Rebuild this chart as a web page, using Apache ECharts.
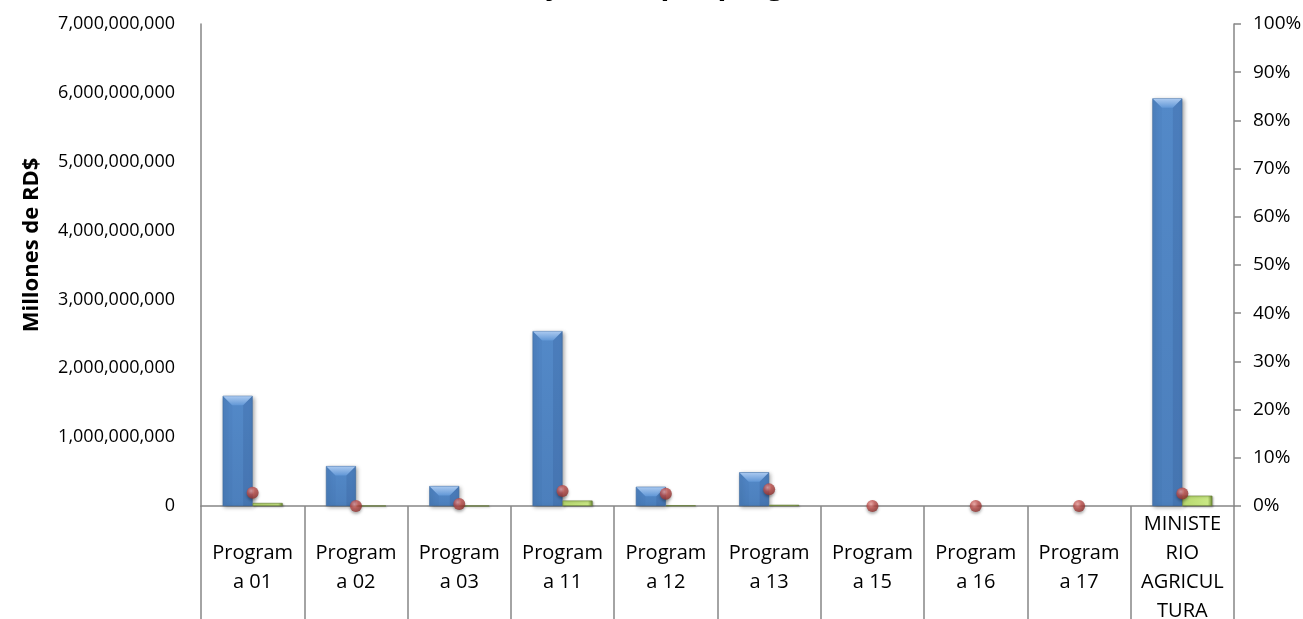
<!DOCTYPE html>
<html>
<head>
<meta charset="utf-8">
<script src="https://cdn.jsdelivr.net/npm/echarts@6/dist/echarts.min.js"></script>
<style>
html,body{margin:0;padding:0;background:#fff;overflow:hidden;}
#chart{width:1303px;height:619px;}
</style>
</head>
<body>
<div id="chart"></div>
<script>
const categories = ['Programa 01','Programa 02','Programa 03','Programa 11','Programa 12','Programa 13','Programa 15','Programa 16','Programa 17','MINISTERIO AGRICULTURA'];
const presupuesto = [1600000000, 580000000, 290000000, 2540000000, 280000000, 490000000, 0, 0, 0, 5920000000];
const ejecutado = [44000000, 1000000, 1000000, 79000000, 7000000, 17000000, 0, 0, 0, 150000000];
const porcentaje = [0.0276, 0.0, 0.004, 0.031, 0.0255, 0.0345, 0, 0, 0, 0.026];
const leftTicks = [0, 1000000000, 7000000000];
const rightTicks = [0, 0.1, 1];
const titleText = 'Monto y Gasto por programa';
const yName = 'Millones de RD$';

function wrapLabel(s) {
  const words = s.split(' ');
  const lines = [];
  let cur = '';
  words.forEach(function (w) {
    if (cur && (cur + ' ' + w).length <= 7) { cur = cur + ' ' + w; return; }
    if (cur) { lines.push(cur); cur = ''; }
    while (w.length > 7) { lines.push(w.slice(0, 7)); w = w.slice(7); }
    cur = w;
  });
  if (cur) lines.push(cur);
  return lines.join('\n');
}
function hideZero(arr) { return arr.map(function (v) { return v === 0 ? null : v; }); }

const BAR_W = 30;
// bevel highlight drawn on top of the blue bars (positions come from the axis scale)
function bevelItem(params, api) {
  const idx = api.value(0), val = api.value(1);
  if (!val) return null;
  const top = api.coord([idx, val]);
  const base = api.coord([idx, 0]);
  const x1 = top[0] - 0.5, x0 = top[0] - BAR_W + 0.5;
  const yT = top[1] + 0.5, yB = base[1];
  const h = yB - yT;
  const b = Math.min(9, h / 2);
  return {
    type: 'group',
    children: [
      {
        type: 'polygon',
        shape: { points: [[x0, yT], [x1, yT], [x1 - b, yT + b], [x0 + b, yT + b]] },
        style: {
          fill: {
            type: 'linear', x: 0, y: 0, x2: 0, y2: 1,
            colorStops: [{ offset: 0, color: '#a9c8ef' }, { offset: 1, color: '#6197d6' }]
          }
        }
      },
      {
        type: 'polygon',
        shape: { points: [[x0, yT], [x0 + b, yT + b], [x0 + b, yB], [x0, yB]] },
        style: { fill: 'rgba(40,80,140,0.07)' }
      },
      {
        type: 'polygon',
        shape: { points: [[x1, yT], [x1 - b, yT + b], [x1 - b, yB], [x1, yB]] },
        style: { fill: 'rgba(30,60,110,0.14)' }
      }
    ]
  };
}

const chart = echarts.init(document.getElementById('chart'), null, { width: 1303, height: 619 });
const FONT = 'Open Sans';
chart.setOption({
  animation: false,
  backgroundColor: '#fff',
  title: {
    text: titleText,
    left: 443,
    top: -29,
    padding: 0,
    textStyle: { fontFamily: FONT, fontSize: 29, fontWeight: 'bold', color: '#000' }
  },
  grid: { left: 201, width: 1033, top: 24, height: 482, containLabel: false, outerBoundsMode: 'none' },
  xAxis: {
    type: 'category',
    data: categories,
    boundaryGap: true,
    axisLine: { show: true, lineStyle: { color: '#868686', width: 1.5 } },
    axisTick: { show: true, interval: 0, length: 113, lineStyle: { color: '#868686', width: 1.5 } },
    axisLabel: {
      interval: 0, fontFamily: FONT, fontSize: 20, color: '#000',
      lineHeight: 29, verticalAlign: 'middle', margin: 62,
      formatter: wrapLabel
    },
    splitLine: { show: false }
  },
  yAxis: [
    {
      type: 'value',
      min: leftTicks[0], max: leftTicks[2], interval: leftTicks[1],
      name: yName,
      nameLocation: 'middle',
      nameGap: 158,
      nameTextStyle: { fontFamily: FONT, fontSize: 22, fontWeight: 'bold', color: '#000', padding: [0, 0, 0, 40] },
      axisLine: { show: true, lineStyle: { color: '#868686', width: 1.5 } },
      axisTick: { show: false },
      splitLine: { show: false },
      axisLabel: {
        fontFamily: FONT, fontSize: 18, color: '#000', margin: 26,
        formatter: function (v) { return v.toLocaleString('en-US'); }
      }
    },
    {
      type: 'value',
      position: 'right',
      min: rightTicks[0], max: rightTicks[2], interval: rightTicks[1],
      axisLine: { show: true, lineStyle: { color: '#868686', width: 1.5 } },
      axisTick: { show: true, length: 7, lineStyle: { color: '#868686', width: 1.5 } },
      splitLine: { show: false },
      axisLabel: {
        fontFamily: FONT, fontSize: 19, color: '#000', margin: 19,
        formatter: function (v) { return Math.round(v * 100) + '%'; }
      }
    }
  ],
  series: [
    {
      name: 'Presupuesto',
      type: 'bar',
      yAxisIndex: 0,
      data: hideZero(presupuesto),
      barWidth: BAR_W,
      barGap: '0%',
      itemStyle: {
        color: {
          type: 'linear', x: 0, y: 0, x2: 0, y2: 1,
          colorStops: [
            { offset: 0, color: '#5389c8' },
            { offset: 1, color: '#4c7fbc' }
          ]
        },
        borderColor: '#3d6aa0', borderWidth: 0.6,
        shadowBlur: 4, shadowColor: 'rgba(0,0,0,0.35)', shadowOffsetX: 1.5, shadowOffsetY: 1.5
      }
    },
    {
      name: 'Ejecutado',
      type: 'bar',
      yAxisIndex: 0,
      data: hideZero(ejecutado),
      barWidth: BAR_W,
      itemStyle: {
        color: {
          type: 'linear', x: 0, y: 0, x2: 1, y2: 0,
          colorStops: [
            { offset: 0, color: '#b7d86e' },
            { offset: 0.85, color: '#c9e884' },
            { offset: 1, color: '#6f8c35' }
          ]
        },
        borderColor: '#5f7a2a', borderWidth: 0.6,
        shadowBlur: 2, shadowColor: 'rgba(0,0,0,0.3)', shadowOffsetX: 1, shadowOffsetY: 1
      }
    },
    {
      name: 'bevel',
      type: 'custom',
      yAxisIndex: 0,
      z: 3,
      silent: true,
      renderItem: bevelItem,
      encode: { x: 0, y: 1 },
      data: presupuesto.map(function (v, i) { return [i, v]; })
    },
    {
      name: 'Porcentaje',
      type: 'scatter',
      yAxisIndex: 1,
      data: porcentaje,
      symbol: 'circle',
      symbolSize: 12,
      z: 5,
      itemStyle: {
        color: {
          type: 'radial', x: 0.38, y: 0.35, r: 0.7,
          colorStops: [
            { offset: 0, color: '#f3a6a3' },
            { offset: 0.45, color: '#c0504d' },
            { offset: 1, color: '#8a2e2b' }
          ]
        },
        shadowBlur: 3, shadowColor: 'rgba(0,0,0,0.4)', shadowOffsetY: 2
      }
    }
  ]
});
</script>
</body>
</html>
